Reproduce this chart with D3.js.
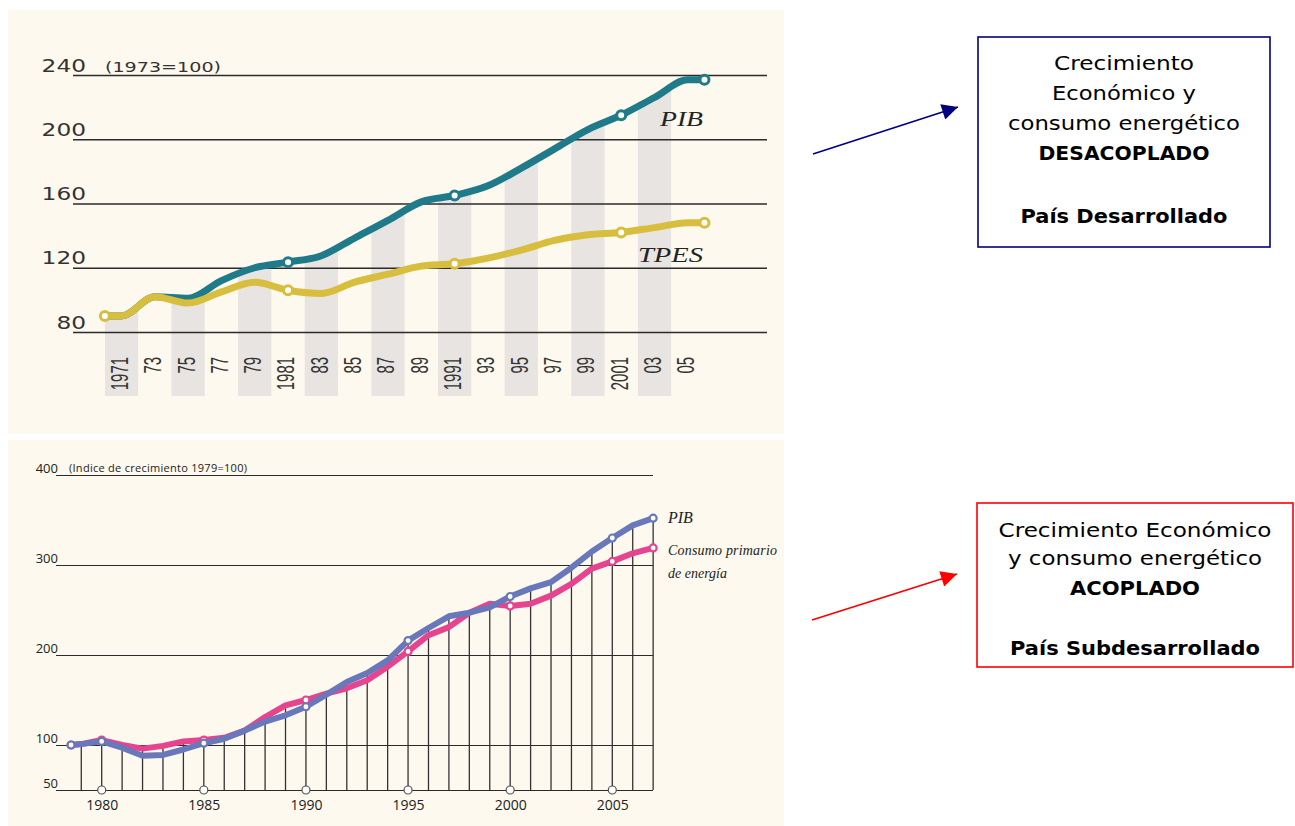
<!DOCTYPE html>
<html>
<head>
<meta charset="utf-8">
<script src="https://cdn.jsdelivr.net/npm/d3@7"></script>
<style>
  body { margin: 0; background: #fff; }
  svg { display: block; }
</style>
</head>
<body>
<svg id="chart" width="1295" height="826"></svg>
<script>
// ---- top chart (1973=100) ----
let topYears = [1970, 1971, 1973, 1975, 1977, 1979, 1981, 1983, 1985, 1987, 1989, 1991, 1993, 1995, 1997, 1999, 2001, 2003, 2005, 2006];
let topPIB   = [90, 90, 102, 101, 112, 120, 123.5, 127.5, 138.5, 149.5, 161, 165, 171, 182, 194, 206, 215, 226, 237, 237];
let topTPES  = [90, 90, 102, 98, 105, 111, 106, 104, 111, 116, 121, 122.5, 126, 131, 137, 140.5, 142, 145, 148, 148];
let topTickYears  = [1971, 1973, 1975, 1977, 1979, 1981, 1983, 1985, 1987, 1989, 1991, 1993, 1995, 1997, 1999, 2001, 2003, 2005];
let topTickLabels = ['1971', '73', '75', '77', '79', '1981', '83', '85', '87', '89', '1991', '93', '95', '97', '99', '2001', '03', '05'];
let topBandYears  = [1971, 1975, 1979, 1983, 1987, 1991, 1995, 1999, 2003];
let topMarkerYears = [1970, 1981, 1991, 2001, 2006];
let topYTicks = [80, 120, 160, 200, 240];

// ---- bottom chart (1979=100) ----
let botYears = [1978.5, 1979, 1980, 1981, 1982, 1983, 1984, 1985, 1986, 1987, 1988, 1989, 1990, 1991, 1992, 1993,
                1994, 1995, 1996, 1997, 1998, 1999, 2000, 2001, 2002, 2003, 2004, 2005, 2006, 2007];
let botPIB     = [100, 101, 104, 97, 88, 89, 95, 102, 107, 116, 126, 133, 142.5, 156, 170, 180,
                  194, 216, 230, 243, 247, 253, 265, 274, 281, 297, 315, 330, 344, 352];
let botEnergia = [100, 101, 105.5, 100, 96, 99, 104, 105.5, 108, 116, 131, 144, 150, 157, 163, 172,
                  187, 204, 222, 231, 247, 257, 254.5, 257, 266, 279, 296, 304, 313, 319];
let botYTicks = [50, 100, 200, 300, 400];
let botXTicks = [1980, 1985, 1990, 1995, 2000, 2005];
let botMarkerYears = [1978.5, 1980, 1985, 1990, 1995, 2000, 2005, 2007];

let svg = d3.select('#chart');

let cream = '#fdf9ee';
let teal = '#1f7a89';
let gold = '#d8be3e';
let blue = '#6878bb';
let pink = '#e6448e';

// panels
svg.append('rect').attr('x', 8).attr('y', 10).attr('width', 776).attr('height', 424).attr('fill', cream);
svg.append('rect').attr('x', 8).attr('y', 440).attr('width', 776).attr('height', 386).attr('fill', cream);

// ================= TOP =================
let xTop = d3.scaleLinear().domain([1971, 2003]).range([121.5, 654.5]);
let yTop = d3.scaleLinear().domain([80, 240]).range([332, 75]);
let bandBottom = 396;

let topPib = topYears.map((yr, i) => ({ year: yr, v: topPIB[i] }));
let topTpes = topYears.map((yr, i) => ({ year: yr, v: topTPES[i] }));

// grey bands, clipped under the PIB line
let underPib = d3.area()
  .x(d => xTop(d.year))
  .y0(bandBottom)
  .y1(d => yTop(d.v))
  .curve(d3.curveMonotoneX);

svg.append('clipPath').attr('id', 'under-pib')
  .append('path').attr('d', underPib(topPib));

svg.append('g').attr('clip-path', 'url(#under-pib)')
  .selectAll('rect')
  .data(topBandYears)
  .enter()
  .append('rect')
  .attr('x', d => xTop(d - 1))
  .attr('width', d => xTop(d + 1) - xTop(d - 1))
  .attr('y', 0)
  .attr('height', bandBottom)
  .attr('fill', '#e8e4e1');

// horizontal grid + y labels
let gTopY = svg.append('g')
  .attr('transform', 'translate(73,0)')
  .call(d3.axisLeft(yTop).tickValues(topYTicks).tickSize(-694).tickPadding(0));
gTopY.select('.domain').remove();
gTopY.selectAll('.tick line').attr('stroke', '#2b2b2b').attr('stroke-width', 1.3);
gTopY.selectAll('.tick text')
  .attr('x', 13)
  .attr('y', -4)
  .attr('dy', null)
  .attr('text-anchor', 'end')
  .attr('textLength', d => String(d).length * 14.8)
  .attr('lengthAdjust', 'spacingAndGlyphs')
  .style('font-family', '"DejaVu Sans", sans-serif')
  .style('font-size', '17px')
  .style('fill', '#333');

svg.append('text')
  .attr('x', 105).attr('y', 72)
  .attr('textLength', 116)
  .attr('lengthAdjust', 'spacingAndGlyphs')
  .style('font-family', '"DejaVu Sans", sans-serif')
  .style('font-size', '14px')
  .style('fill', '#333')
  .text('(1973=100)');

// year labels (rotated, condensed)
svg.append('g')
  .selectAll('text')
  .data(topTickYears)
  .enter()
  .append('text')
  .attr('transform', d => `translate(${xTop(d) - 2},357) rotate(-90)`)
  .attr('dy', '0.35em')
  .attr('text-anchor', 'end')
  .attr('textLength', (d, i) => topTickLabels[i].length * 8.3)
  .attr('lengthAdjust', 'spacingAndGlyphs')
  .style('font-family', '"Liberation Sans", sans-serif')
  .style('font-size', '24px')
  .style('fill', '#333')
  .text((d, i) => topTickLabels[i]);

let topLine = d3.line()
  .x(d => xTop(d.year))
  .y(d => yTop(d.v))
  .curve(d3.curveMonotoneX);

svg.append('path').attr('d', topLine(topPib))
  .attr('fill', 'none').attr('stroke', teal).attr('stroke-width', 7)
  .attr('stroke-linejoin', 'round').attr('stroke-linecap', 'round');
svg.append('path').attr('d', topLine(topTpes))
  .attr('fill', 'none').attr('stroke', gold).attr('stroke-width', 7)
  .attr('stroke-linejoin', 'round').attr('stroke-linecap', 'round');

function topMarkers(series, color) {
  svg.append('g')
    .selectAll('circle')
    .data(series.filter(d => topMarkerYears.includes(d.year)))
    .enter()
    .append('circle')
    .attr('cx', d => xTop(d.year))
    .attr('cy', d => yTop(d.v))
    .attr('r', 4.5)
    .attr('fill', '#fff')
    .attr('stroke', color)
    .attr('stroke-width', 3);
}
topMarkers(topPib.filter(d => d.year > 1971), teal);
topMarkers(topTpes, gold);

svg.append('text').attr('x', 660).attr('y', 126)
  .attr('textLength', 43).attr('lengthAdjust', 'spacingAndGlyphs')
  .style('font-family', '"Liberation Serif", serif').style('font-style', 'italic')
  .style('font-size', '21px').style('fill', '#222').text('PIB');
svg.append('text').attr('x', 638).attr('y', 262)
  .attr('textLength', 65).attr('lengthAdjust', 'spacingAndGlyphs')
  .style('font-family', '"Liberation Serif", serif').style('font-style', 'italic')
  .style('font-size', '21px').style('fill', '#222').text('TPES');

// ================= BOTTOM =================
let xBot = d3.scaleLinear().domain([1980, 2005]).range([101.7, 612.3]);
let yBot = d3.scaleLinear().domain([50, 400]).range([790, 475]);

let botPib = botYears.map((yr, i) => ({ year: yr, v: botPIB[i] }));
let botEne = botYears.map((yr, i) => ({ year: yr, v: botEnergia[i] }));

// horizontal grid + y labels
let gBotY = svg.append('g')
  .attr('transform', 'translate(56,0)')
  .call(d3.axisLeft(yBot).tickValues(botYTicks).tickSize(-597).tickPadding(0));
gBotY.select('.domain').remove();
gBotY.selectAll('.tick line').attr('stroke', '#2b2b2b').attr('stroke-width', 1.2);
gBotY.selectAll('.tick text')
  .attr('x', 2)
  .attr('y', -3)
  .attr('dy', null)
  .attr('text-anchor', 'end')
  .style('font-family', '"Open Sans", sans-serif')
  .style('font-size', '13px')
  .style('fill', '#222');

svg.append('text')
  .attr('x', 69).attr('y', 472)
  .attr('textLength', 178)
  .style('font-family', '"Open Sans", sans-serif')
  .style('font-size', '11px')
  .style('fill', '#222')
  .text('(Indice de crecimiento 1979=100)');

// vertical year lines up to the upper curve
let yearLines = botYears.map((yr, i) => ({ year: yr, v: Math.max(botPIB[i], botEnergia[i]) }))
  .filter(d => Number.isInteger(d.year));
svg.append('g')
  .selectAll('line')
  .data(yearLines)
  .enter()
  .append('line')
  .attr('x1', d => xBot(d.year)).attr('x2', d => xBot(d.year))
  .attr('y1', yBot(50)).attr('y2', d => yBot(d.v))
  .attr('stroke', '#333')
  .attr('stroke-width', 1.3);

// x axis labels
let gBotX = svg.append('g')
  .attr('transform', `translate(0,${yBot(50)})`)
  .call(d3.axisBottom(xBot).tickValues(botXTicks).tickSize(0).tickFormat(d3.format('d')));
gBotX.select('.domain').remove();
gBotX.selectAll('.tick text')
  .attr('y', 20)
  .attr('dy', null)
  .style('font-family', '"Open Sans", sans-serif')
  .style('font-size', '14px')
  .style('fill', '#222');

svg.append('g')
  .selectAll('circle')
  .data(botXTicks)
  .enter()
  .append('circle')
  .attr('cx', d => xBot(d))
  .attr('cy', yBot(50))
  .attr('r', 4)
  .attr('fill', '#fff')
  .attr('stroke', '#555')
  .attr('stroke-width', 1.2);

let botLine = d3.line()
  .x(d => xBot(d.year))
  .y(d => yBot(d.v));

svg.append('path').attr('d', botLine(botEne))
  .attr('fill', 'none').attr('stroke', pink).attr('stroke-width', 6)
  .attr('stroke-linejoin', 'round').attr('stroke-linecap', 'round');
svg.append('path').attr('d', botLine(botPib))
  .attr('fill', 'none').attr('stroke', blue).attr('stroke-width', 6)
  .attr('stroke-linejoin', 'round').attr('stroke-linecap', 'round');

function botMarkers(series, color) {
  svg.append('g')
    .selectAll('circle')
    .data(series.filter(d => botMarkerYears.includes(d.year)))
    .enter()
    .append('circle')
    .attr('cx', d => xBot(d.year))
    .attr('cy', d => yBot(d.v))
    .attr('r', 3.5)
    .attr('fill', '#fff')
    .attr('stroke', color)
    .attr('stroke-width', 2.2);
}
botMarkers(botEne, pink);
botMarkers(botPib, blue);

let legendFont = '"Liberation Serif", serif';
svg.append('text').attr('x', 668).attr('y', 523)
  .style('font-family', legendFont).style('font-style', 'italic')
  .style('font-size', '16px').style('fill', '#222').text('PIB');
svg.append('text').attr('x', 668).attr('y', 555).attr('textLength', 109)
  .style('font-family', legendFont).style('font-style', 'italic')
  .style('font-size', '14px').style('fill', '#222').text('Consumo primario');
svg.append('text').attr('x', 668).attr('y', 578)
  .style('font-family', legendFont).style('font-style', 'italic')
  .style('font-size', '14px').style('fill', '#222').text('de energía');

// ================= BOXES + ARROWS =================
let boxes = [
  {
    x: 978, y: 37, w: 292, h: 210, color: '#000080', cx: 1124,
    lines: [
      { t: 'Crecimiento', y: 70, len: 140 },
      { t: 'Económico y', y: 100, len: 144 },
      { t: 'consumo energético', y: 130, len: 232 },
      { t: 'DESACOPLADO', y: 160, len: 171, bold: true },
      { t: 'País Desarrollado', y: 223, len: 207, bold: true }
    ],
    arrow: [813, 154, 958, 107]
  },
  {
    x: 977, y: 503, w: 316, h: 164, color: '#ff0000', cx: 1135,
    lines: [
      { t: 'Crecimiento Económico', y: 537, len: 273 },
      { t: 'y consumo energético', y: 565, len: 254 },
      { t: 'ACOPLADO', y: 595, len: 130, bold: true },
      { t: 'País Subdesarrollado', y: 655, len: 250, bold: true }
    ],
    arrow: [812, 620, 957, 574]
  }
];

let defs = svg.append('defs');
boxes.forEach((b, i) => {
  defs.append('marker')
    .attr('id', 'head' + i)
    .attr('viewBox', '0 0 10 10')
    .attr('refX', 10).attr('refY', 5)
    .attr('markerUnits', 'userSpaceOnUse')
    .attr('markerWidth', 22).attr('markerHeight', 16)
    .attr('orient', 'auto')
    .append('path').attr('d', 'M0,0L10,5L0,10Z').attr('fill', b.color);

  svg.append('rect')
    .attr('x', b.x).attr('y', b.y).attr('width', b.w).attr('height', b.h)
    .attr('fill', '#fff').attr('stroke', b.color).attr('stroke-width', 1.6);

  svg.append('g')
    .selectAll('text')
    .data(b.lines)
    .enter()
    .append('text')
    .attr('x', b.cx)
    .attr('y', d => d.y)
    .attr('text-anchor', 'middle')
    .attr('textLength', d => d.len)
    .attr('lengthAdjust', 'spacingAndGlyphs')
    .style('font-family', '"DejaVu Sans", sans-serif')
    .style('font-size', '20px')
    .style('font-weight', d => d.bold ? 'bold' : 'normal')
    .style('fill', '#000')
    .text(d => d.t);

  svg.append('line')
    .attr('x1', b.arrow[0]).attr('y1', b.arrow[1])
    .attr('x2', b.arrow[2]).attr('y2', b.arrow[3])
    .attr('stroke', b.color).attr('stroke-width', 1.8)
    .attr('marker-end', `url(#head${i})`);
});
</script>
</body>
</html>
